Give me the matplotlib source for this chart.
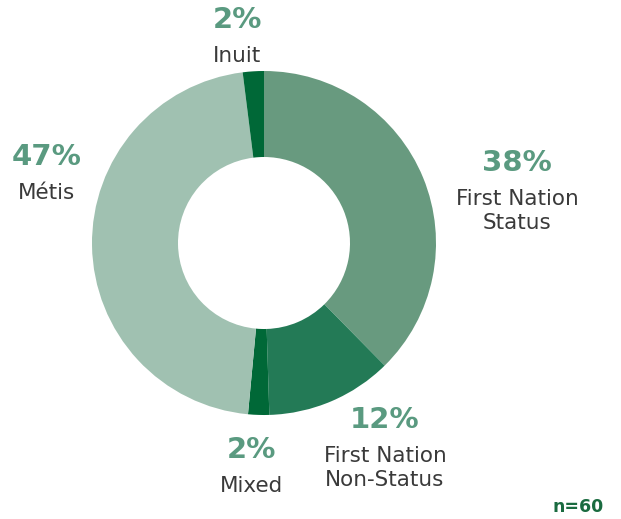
import matplotlib
matplotlib.use("Agg")
import matplotlib.pyplot as plt

# data
groups = ["First Nation\nStatus", "First Nation\nNon-Status", "Mixed", "Métis", "Inuit"]
shares = [38, 12, 2, 47, 2]
colors = ["#689a7f", "#237a56", "#006837", "#a0c1b1", "#006837"]
sample_note = "n=60"

W, H = 621, 519
fig = plt.figure(figsize=(W / 100, H / 100), dpi=100)
ax = fig.add_axes([0, 0, 1, 1])

cx, cy, r = 264, H - 243, 172
ax.pie(shares, colors=colors, startangle=90, counterclock=False,
       center=(cx, cy), radius=r, frame=True,
       wedgeprops=dict(width=86, linewidth=0))
ax.set_xlim(0, W)
ax.set_ylim(0, H)
ax.set_aspect("equal")
ax.axis("off")

pct_color = "#5a9a80"
txt_color = "#3a3a3a"
fam = ["DejaVu Sans"]

# label anchor points (pixel coords, y from top)
spots = [(517, 163), (385, 420), (251, 450), (47, 157), (237, 20)]
for name, val, (x, y) in zip(groups, shares, spots):
    ax.text(x, H - y, f"{val}%", ha="center", va="center", fontsize=21,
            fontweight="bold", color=pct_color, family=fam)
    ax.text(x, H - y - 26, name, ha="center", va="top", fontsize=15.5,
            color=txt_color, family=fam, linespacing=1.25)

ax.text(578, H - 507, sample_note, ha="center", va="center", fontsize=12.5,
        fontweight="bold", color="#1a6b40", family=fam)

fig.savefig("out.png", dpi=100)
